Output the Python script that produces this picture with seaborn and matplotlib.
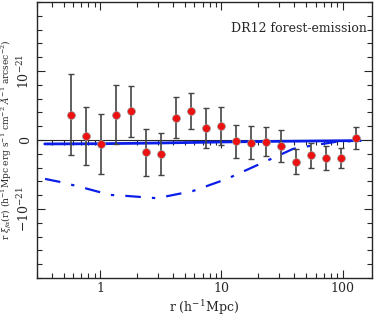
import numpy as np
import pandas as pd
import matplotlib
matplotlib.use("Agg")
import matplotlib.pyplot as plt
from matplotlib.ticker import NullFormatter
import seaborn as sns

# measured points (r in h^-1 Mpc, r*xi in units of 1e-21)
r_data = [0.576, 0.767, 1.02, 1.355, 1.80, 2.39, 3.18, 4.23, 5.63, 7.44,
          9.89, 13.2, 17.6, 23.4, 30.9, 41.3, 54.9, 72.6, 97.0, 128.2]
rxi_data = [0.367, 0.054, -0.062, 0.367, 0.416, -0.178, -0.203, 0.323, 0.416, 0.170,
            0.203, -0.019, -0.043, -0.025, -0.083, -0.314, -0.222, -0.265, -0.265, 0.025]
rxi_err = [0.59, 0.42, 0.435, 0.43, 0.37, 0.34, 0.31, 0.30, 0.26, 0.29,
           0.27, 0.24, 0.24, 0.21, 0.23, 0.18, 0.18, 0.17, 0.145, 0.16]

# model curves
r_solid = [0.35, 1.0, 3.0, 10.0, 30.0, 100.0, 140.0]
rxi_solid = [-0.058, -0.055, -0.045, -0.03, -0.02, -0.012, -0.01]

r_dash = [0.352, 0.468, 0.684, 1.21, 1.61, 2.95, 5.84, 11.1, 20.8, 39.0, 53.8, 89.9, 139.0]
rxi_dash = [-0.565, -0.609, -0.68, -0.797, -0.81, -0.845, -0.74, -0.565, -0.348, -0.13,
            -0.087, -0.025, -0.014]

df = pd.DataFrame({"r": r_data, "rxi": rxi_data, "err": rxi_err})
solid = pd.DataFrame({"r": r_solid, "rxi": rxi_solid})
dash = pd.DataFrame({"r": r_dash, "rxi": rxi_dash})

sns.set_style("ticks")
plt.rcParams["font.family"] = ["DejaVu Serif"]
plt.rcParams["mathtext.fontset"] = "dejavuserif"

fig = plt.figure(figsize=(3.74, 3.18), dpi=100)
ax = fig.add_axes([0.098, 0.126, 0.897, 0.868])

ax.set_xscale("log")
ax.set_xlim(0.3, 175)
ax.set_ylim(-2, 2)

# zero line with its own ticks (no labels)
zax = ax.secondary_xaxis(0.5)
zax.spines["bottom"].set_linewidth(1.0)
zax.xaxis.set_major_formatter(NullFormatter())
zax.xaxis.set_minor_formatter(NullFormatter())
zax.tick_params(which="major", direction="in", length=6, width=0.8)
zax.tick_params(which="minor", direction="in", length=3.5, width=0.8)

sns.lineplot(data=solid, x="r", y="rxi", ax=ax, color="#0a1ee8", lw=2.0)
sns.lineplot(data=dash, x="r", y="rxi", ax=ax, color="#0a1ee8", lw=1.6,
             linestyle=(0, (7, 5, 1.5, 5)))

ax.errorbar(df["r"], df["rxi"], yerr=df["err"], fmt="none", ecolor="#444444",
            elinewidth=1.2, capsize=2, capthick=1.0, zorder=3)
sns.scatterplot(data=df, x="r", y="rxi", ax=ax, color="#ee1111", s=32,
                edgecolor="#999999", linewidth=0.5, zorder=4)

ax.set_yticks([-1, 0, 1])
ax.set_yticklabels([r"$-10^{-21}$", "0", r"$10^{-21}$"], rotation=90, va="center")
ax.set_yticks(np.arange(-2, 2.01, 0.2), minor=True)
ax.set_xticks([1, 10, 100])
ax.set_xticklabels(["1", "10", "100"])

ax.tick_params(which="major", direction="in", length=6, width=0.8, top=True, right=True,
               labelsize=9, pad=3)
ax.tick_params(which="minor", direction="in", length=3.5, width=0.8, top=True, right=True)
for s in ax.spines.values():
    s.set_linewidth(1.0)

ax.set_xlabel(r"r (h$^{-1}$Mpc)", fontsize=9, labelpad=2)
ax.set_ylabel(r"r $\xi_{f\alpha}$(r) (h$^{-1}$Mpc erg s$^{-1}$ cm$^{-2}$ $\AA^{-1}$ arcsec$^{-2}$)",
              fontsize=6.5, labelpad=2)

ax.text(0.985, 0.905, "DR12 forest-emission", transform=ax.transAxes, ha="right",
        va="center", fontsize=9)

fig.savefig("out.png", dpi=100)
